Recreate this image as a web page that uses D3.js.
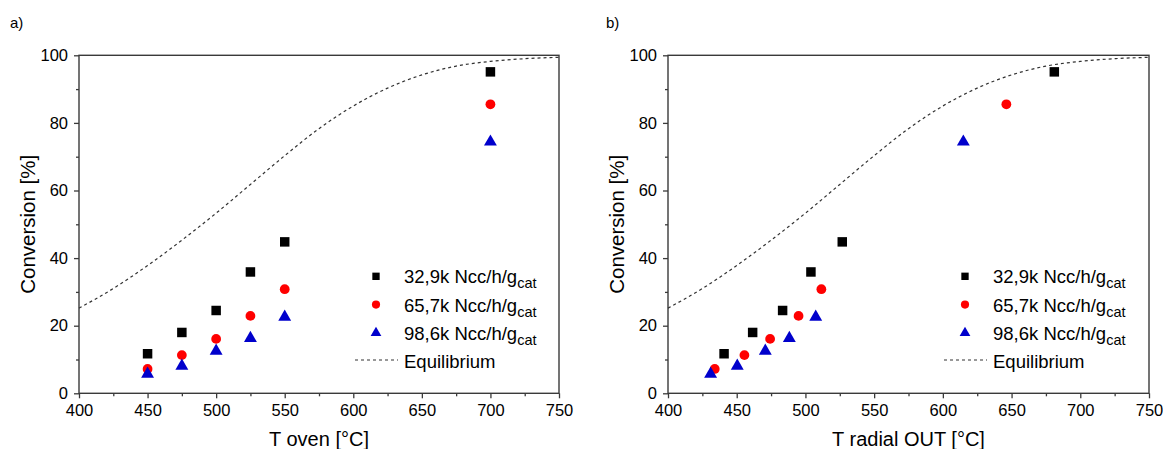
<!DOCTYPE html>
<html>
<head>
<meta charset="utf-8">
<script src="https://cdn.jsdelivr.net/npm/d3@7"></script>
<style>
  html, body { margin: 0; padding: 0; background: #fff; }
  svg { display: block; font-family: Arial, "Liberation Sans", sans-serif; }
</style>
</head>
<body>
<svg id="chart" width="1163" height="449"></svg>
<script>
// ---- Data ----
const seriesNames = ["32,9k Ncc/h/g", "65,7k Ncc/h/g", "98,6k Ncc/h/g"];
const tOven = [450, 475, 500, 525, 550, 700];
const conv1 = [11.7, 18.0, 24.5, 35.9, 44.8, 95.1];
const conv2 = [7.2, 11.3, 16.1, 22.9, 30.8, 85.5];
const conv3 = [5.7, 8.1, 12.5, 16.3, 22.6, 74.4];
const tRadial1 = [440.8, 461.6, 483.4, 504.0, 526.8, 681.1];
const tRadial2 = [434.0, 455.6, 474.3, 495.0, 511.6, 646.2];
const tRadial3 = [431.0, 450.4, 470.8, 488.3, 507.5, 614.9];
const eqTemp = [400, 425, 450, 475, 500, 525, 550, 575, 600, 625, 650, 675, 700, 725, 750];
const eqConv = [25.2, 31.0, 37.8, 45.3, 53.3, 61.8, 70.3, 78.3, 85.0, 90.3, 94.2, 96.8, 98.2, 99.0, 99.4];
const xTicks = [400, 450, 500, 550, 600, 650, 700, 750];
const yTicks = [0, 20, 40, 60, 80, 100];

const svg = d3.select("#chart");
const colors = ["#000000", "#ff0000", "#0000cc"];
const symbols = [d3.symbolSquare, d3.symbolCircle, d3.symbolTriangle];
const markerSize = [90, 75, 72];
const legendSize = [54, 52, 50];

function drawPanel(opt) {
  const x = d3.scaleLinear().domain([400, 750]).range([opt.left, opt.right]);
  const y = d3.scaleLinear().domain([0, 100]).range([393.3, 55.3]);
  const g = svg.append("g");

  // panel label
  g.append("text").attr("x", opt.labelX).attr("y", 28).attr("font-size", 15).attr("fill", "#000").text(opt.label);

  // frame
  g.append("rect").attr("x", x(400)).attr("y", y(100)).attr("width", x(750) - x(400)).attr("height", y(0) - y(100))
    .attr("fill", "none").attr("stroke", "#3a3a3a").attr("stroke-width", 1.4);

  // x axis
  const xAxis = d3.axisBottom(x).tickValues(xTicks).tickSize(5).tickPadding(6).tickFormat(d3.format("d"));
  const xg = g.append("g").attr("transform", `translate(0,${y(0)})`).call(xAxis);
  const xm = d3.axisBottom(x).tickValues(d3.range(425, 750, 50)).tickSize(3).tickFormat("");
  const xmg = g.append("g").attr("transform", `translate(0,${y(0)})`).call(xm);
  // y axis
  const yAxis = d3.axisLeft(y).tickValues(yTicks).tickSize(5).tickPadding(6).tickFormat(d3.format("d"));
  const yg = g.append("g").attr("transform", `translate(${x(400)},0)`).call(yAxis);
  const ym = d3.axisLeft(y).tickValues(d3.range(10, 100, 20)).tickSize(3).tickFormat("");
  const ymg = g.append("g").attr("transform", `translate(${x(400)},0)`).call(ym);
  [xg, xmg, yg, ymg].forEach(a => {
    a.select(".domain").remove();
    a.selectAll("line").attr("stroke", "#3a3a3a").attr("stroke-width", 1.3);
    a.selectAll("text").attr("font-size", 16.5).attr("fill", "#000").attr("font-family", "Arial, 'Liberation Sans', sans-serif");
  });

  // axis titles
  g.append("text").attr("x", (x(400) + x(750)) / 2).attr("y", 446).attr("text-anchor", "middle")
    .attr("font-size", 20).attr("fill", "#000").text(opt.xTitle);
  g.append("text").attr("transform", `translate(${x(400) - 44},${(y(0) + y(100)) / 2}) rotate(-90)`)
    .attr("text-anchor", "middle").attr("font-size", 20.5).attr("fill", "#000").text("Conversion [%]");

  // equilibrium curve
  const line = d3.line().x(d => x(d[0])).y(d => y(d[1])).curve(d3.curveMonotoneX);
  g.append("path").datum(eqTemp.map((t, i) => [t, eqConv[i]])).attr("d", line)
    .attr("fill", "none").attr("stroke", "#333").attr("stroke-width", 1.2).attr("stroke-dasharray", "3,3");

  // series
  opt.xs.forEach((xs, si) => {
    const ys = [conv1, conv2, conv3][si];
    g.selectAll(null).data(xs.map((v, i) => [v, ys[i]])).enter().append("path")
      .attr("transform", d => `translate(${x(d[0])},${y(d[1])})`)
      .attr("d", d3.symbol().type(symbols[si]).size(markerSize[si]))
      .attr("fill", colors[si]);
  });

  // legend
  const lx = x(400) + 297, tx = x(400) + 325;
  const symY = [276.3, 304.6, 333.0];
  const baseY = [283.3, 311.7, 340.0];
  seriesNames.forEach((name, si) => {
    g.append("path").attr("transform", `translate(${lx},${symY[si]})`)
      .attr("d", d3.symbol().type(symbols[si]).size(legendSize[si])).attr("fill", colors[si]);
    const t = g.append("text").attr("x", tx).attr("y", baseY[si]).attr("font-size", 18.5).attr("fill", "#000");
    t.append("tspan").text(name);
    t.append("tspan").attr("font-size", 14.5).attr("dy", 5).text("cat");
  });
  g.append("line").attr("x1", x(400) + 276).attr("x2", x(400) + 319).attr("y1", 360).attr("y2", 360)
    .attr("stroke", "#333").attr("stroke-width", 1.2).attr("stroke-dasharray", "3,3");
  g.append("text").attr("x", tx).attr("y", 368.3).attr("font-size", 18.5).attr("fill", "#000").text("Equilibrium");
}

drawPanel({ left: 79, right: 559, label: "a)", labelX: 10, xTitle: "T oven [°C]", xs: [tOven, tOven, tOven] });
drawPanel({ left: 668, right: 1149, label: "b)", labelX: 606, xTitle: "T radial OUT [°C]", xs: [tRadial1, tRadial2, tRadial3] });
</script>
</body>
</html>
